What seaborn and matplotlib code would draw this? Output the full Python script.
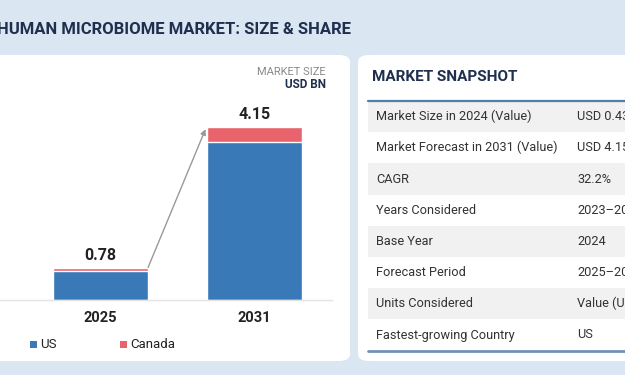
import pandas as pd
import numpy as np
import matplotlib
matplotlib.use("Agg")
import matplotlib.pyplot as plt
import seaborn as sns
from matplotlib.patches import FancyBboxPatch, Rectangle

# Chart data
years = ["2025", "2031"]
us = [0.70, 3.79]
canada = [0.08, 0.36]
totals = [0.78, 4.15]

# Snapshot table
snap_labels = ["Market Size in 2024 (Value)", "Market Forecast in 2031 (Value)",
               "CAGR", "Years Considered", "Base Year", "Forecast Period",
               "Units Considered", "Fastest-growing Country"]
snap_values = ["USD 0.43 BN", "USD 4.15 BN", "32.2%", "2023\u20132031", "2024",
               "2025\u20132031", "Value (USD Million)", "US"]

W, H = 625, 375
sns.set_theme(style="white")
plt.rcParams['font.family'] = ['Roboto', 'DejaVu Sans']

bg = "#dae6f2"
navy = "#1f2f4d"
blue = "#3979b8"
red = "#e9636c"

fig = plt.figure(figsize=(W / 100, H / 100), dpi=100)
fig.patch.set_facecolor(bg)


def fx(px):
    return px / W


def fy(py):
    return 1 - py / H


# title
fig.text(fx(-3), fy(29), "HUMAN MICROBIOME MARKET: SIZE & SHARE", fontsize=12,
         fontweight="bold", color=navy, va="center", ha="left")

# white panels
for x0, x1 in [(-30, 350), (358, 660)]:
    fig.patches.append(FancyBboxPatch((fx(x0), fy(361)), fx(x1 - x0), (361 - 55) / H,
                                      boxstyle="round,pad=0,rounding_size=0.018",
                                      transform=fig.transFigure, facecolor="white",
                                      edgecolor="none", zorder=-2))

# bar chart axes
ax = fig.add_axes([0, fy(300), fx(332), 200 / H])
ax.set_facecolor("none")
ax.set_zorder(2)
df = pd.DataFrame({"year": years, "us": us, "canada": canada,
                   "total": np.array(us) + np.array(canada)})
sns.barplot(data=df, x="year", y="total", color=red, width=0.617,
            saturation=1, ax=ax)
sns.barplot(data=df, x="year", y="us", color=blue, width=0.617,
            saturation=1, ax=ax)
ax.set_xlim(-0.653, 1.503)
ax.set_ylim(0, 4.80)
ax.set_xlabel("")
ax.set_ylabel("")
ax.set_yticks([])
for s in ["top", "right", "left"]:
    ax.spines[s].set_visible(False)
ax.spines["bottom"].set_color("#e4e4e4")
ax.spines["bottom"].set_linewidth(1)
ax.tick_params(axis="x", length=0, pad=8)
for lbl in ax.get_xticklabels():
    lbl.set_fontweight("bold")
    lbl.set_fontsize(10.5)
    lbl.set_color("#222222")

for i, t in enumerate(totals):
    ax.text(i, t + 0.12, f"{t:.2f}", ha="center", va="bottom", fontsize=11.5,
            fontweight="bold", color="#222222")

half = 0.617 / 2
ax.annotate("", xy=(1 - half - 0.01, totals[1] - 0.05), xytext=(half, totals[0]),
            arrowprops=dict(arrowstyle="-|>", color="#999999", lw=1,
                            mutation_scale=8, shrinkA=0, shrinkB=0))

# legend
for px, name, col in [(33, "US", blue), (123, "Canada", red)]:
    fig.patches.append(Rectangle((fx(px - 3), fy(348)), fx(7), 7 / H,
                                 transform=fig.transFigure, facecolor=col,
                                 edgecolor="none"))
    fig.text(fx(px + 7), fy(344), name, fontsize=9.5, color="#222222",
             va="center", ha="left")

fig.text(fx(326), fy(72), "MARKET SIZE", fontsize=8, color="#8a8a8a",
         ha="right", va="center")
fig.text(fx(326), fy(85), "USD BN", fontsize=8.5, color=navy,
         fontweight="bold", ha="right", va="center")

# snapshot table
fig.text(fx(372), fy(77), "MARKET SNAPSHOT", fontsize=11, fontweight="bold",
         color=navy, ha="left", va="center")
row_h = 31.2
top = 101
for i, (lab, val) in enumerate(zip(snap_labels, snap_values)):
    y0 = top + i * row_h
    if i % 2 == 0:
        fig.patches.append(Rectangle((fx(368), fy(y0 + row_h)), fx(300), row_h / H,
                                     transform=fig.transFigure,
                                     facecolor="#f1f1f1", edgecolor="none"))
    yc = y0 + row_h / 2
    fig.text(fx(376), fy(yc), lab, fontsize=9.2, color="#333333",
             ha="left", va="center")
    fig.text(fx(577), fy(yc), val, fontsize=9.2, color="#333333",
             ha="left", va="center")

fig.lines.append(plt.Line2D([fx(368), 1], [fy(101), fy(101)], color="#4f7eaa",
                            lw=1.6, transform=fig.transFigure))
fig.lines.append(plt.Line2D([fx(368), 1], [fy(350.5), fy(350.5)], color="#6f94b8",
                            lw=2, transform=fig.transFigure))

fig.savefig("out.png", dpi=100, facecolor=bg)
